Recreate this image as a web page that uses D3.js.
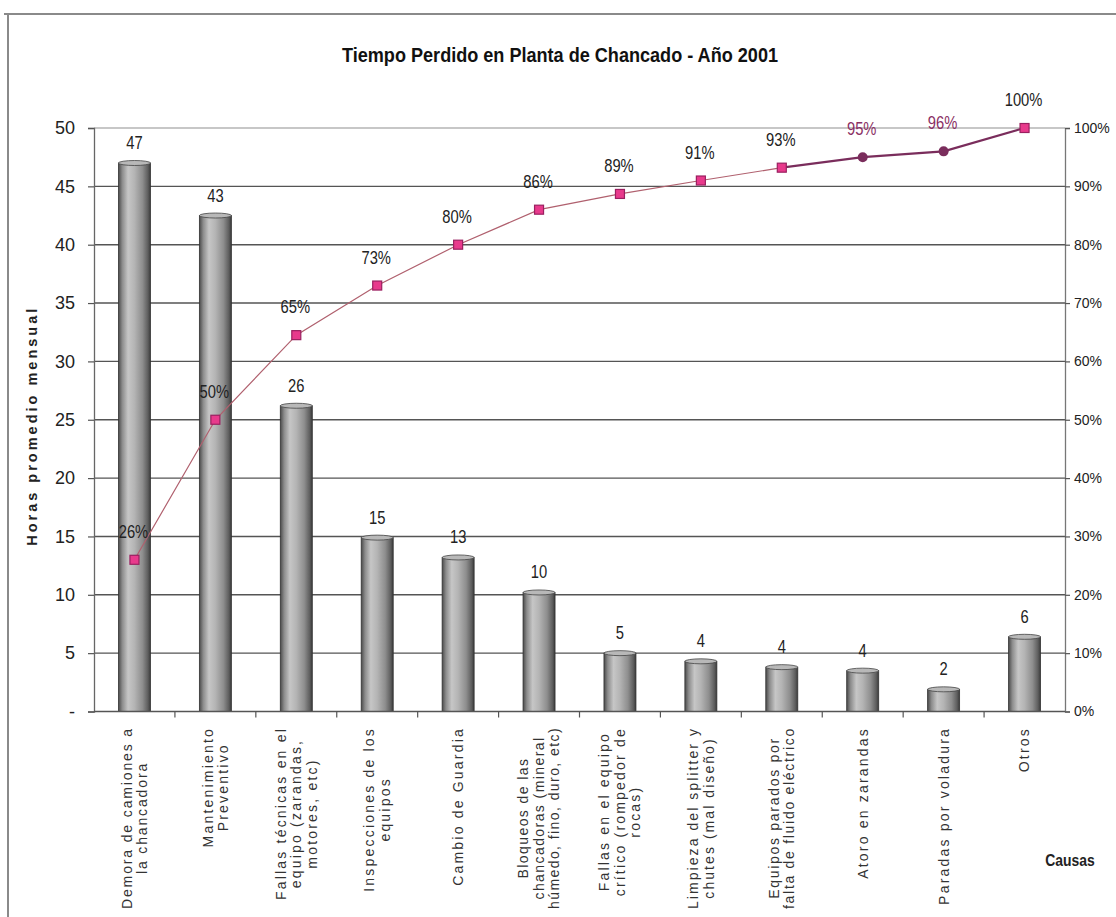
<!DOCTYPE html>
<html>
<head>
<meta charset="utf-8">
<script src="https://cdn.jsdelivr.net/npm/d3@7/dist/d3.min.js"></script>
<style>
  html, body { margin: 0; padding: 0; background: #fff; }
  svg { display: block; }
</style>
</head>
<body>
<script>
// ---------- DATA ----------
const categories = [
  "Demora de camiones a la chancadora",
  "Mantenimiento Preventivo",
  "Fallas técnicas en el equipo (zarandas, motores, etc)",
  "Inspecciones de los equipos",
  "Cambio de Guardia",
  "Bloqueos de las chancadoras (mineral húmedo, fino, duro, etc)",
  "Fallas en el equipo crítico (rompedor de rocas)",
  "Limpieza del splitter y chutes (mal diseño)",
  "Equipos parados por falta de fluido eléctrico",
  "Atoro en zarandas",
  "Paradas por voladura",
  "Otros"
];
const categoryLines = [
  ["Demora de camiones a", "la chancadora"],
  ["Mantenimiento", "Preventivo"],
  ["Fallas técnicas en el", "equipo (zarandas,", "motores, etc)"],
  ["Inspecciones de los", "equipos"],
  ["Cambio de Guardia"],
  ["Bloqueos de las", "chancadoras (mineral", "húmedo, fino, duro, etc)"],
  ["Fallas en el equipo", "crítico (rompedor de", "rocas)"],
  ["Limpieza del splitter y", "chutes (mal diseño)"],
  ["Equipos parados por", "falta de fluido eléctrico"],
  ["Atoro en zarandas"],
  ["Paradas por voladura"],
  ["Otros"]
];
const hours = [47, 42.5, 26.2, 14.9, 13.2, 10.2, 5.0, 4.3, 3.8, 3.5, 1.9, 6.4];
const cumulativePct = [26, 50, 64.5, 73, 80, 86, 88.7, 91, 93.2, 95, 96, 100];
const leftTicks = [0, 5, 10, 15, 20, 25, 30, 35, 40, 45, 50];
const rightTicks = [0, 10, 20, 30, 40, 50, 60, 70, 80, 90, 100];
const titleText = "Tiempo Perdido en Planta de Chancado - Año 2001";
const yTitle = "Horas promedio mensual";
const xTitle = "Causas";

// ---------- LAYOUT ----------
const W = 1116, H = 917;
const plot = { left: 94, right: 1065, top: 128, bottom: 711.5 };
const SANS = "'Liberation Sans', Arial, sans-serif";
const NARROW_SCALE = 0.82;

const svg = d3.select("body").append("svg").attr("width", W).attr("height", H);

// gradient for cylinder bars
const defs = svg.append("defs");
const grad = defs.append("linearGradient").attr("id", "cyl").attr("x1", "0%").attr("x2", "100%");
[[0, "#4a4a4a"], [0.12, "#8c8c8c"], [0.3, "#c6c6c6"], [0.5, "#b4b4b4"], [0.75, "#8e8e8e"], [0.92, "#5e5e5e"], [1, "#3a3a3a"]]
  .forEach(([o, c]) => grad.append("stop").attr("offset", o).attr("stop-color", c));

// frame
svg.append("line").attr("x1", 4).attr("x2", W).attr("y1", 14).attr("y2", 14)
  .attr("stroke", "#8a8a8a").attr("stroke-width", 2);
svg.append("line").attr("x1", 8).attr("x2", 8).attr("y1", 14).attr("y2", H)
  .attr("stroke", "#8a8a8a").attr("stroke-width", 2);

// scales
const x = d3.scaleBand().domain(categories).range([plot.left, plot.right]).paddingInner(0).paddingOuter(0);
const yL = d3.scaleLinear().domain([0, 50]).range([plot.bottom, plot.top]);
const yR = d3.scaleLinear().domain([0, 100]).range([plot.bottom, plot.top]);

// title
svg.append("text").attr("x", 560).attr("y", 62).attr("text-anchor", "middle")
  .attr("font-family", SANS).attr("font-weight", "bold").attr("font-size", 21)
  .attr("fill", "#111").attr("textLength", 436).attr("lengthAdjust", "spacingAndGlyphs")
  .text(titleText);

// gridlines
svg.append("g").selectAll("line").data(leftTicks.filter(d => d > 0)).join("line")
  .attr("x1", plot.left).attr("x2", plot.right)
  .attr("y1", d => yL(d)).attr("y2", d => yL(d))
  .attr("stroke", d => d === 50 ? "#b5b5b5" : "#555")
  .attr("stroke-width", 1.4);

// left axis
const axL = svg.append("g").attr("transform", `translate(${plot.left},0)`)
  .call(d3.axisLeft(yL).tickValues(leftTicks).tickSize(6).tickPadding(13)
    .tickFormat(d => d === 0 ? "-" : d));
axL.select(".domain").attr("stroke", "#666").attr("stroke-width", 1.3);
axL.selectAll(".tick line").attr("stroke", "#555").attr("stroke-width", 1.2);
axL.selectAll(".tick text").attr("font-family", SANS).attr("font-size", 18).attr("fill", "#222");

// right axis
const axR = svg.append("g").attr("transform", `translate(${plot.right},0)`)
  .call(d3.axisRight(yR).tickValues(rightTicks).tickSize(5).tickPadding(4)
    .tickFormat(d => d + "%"));
axR.select(".domain").attr("stroke", "#777").attr("stroke-width", 1.3);
axR.selectAll(".tick line").attr("stroke", "#555").attr("stroke-width", 1.2);
axR.selectAll(".tick text").attr("font-family", SANS).attr("font-size", 14).attr("fill", "#222");

// bars
const barW = 32;
const bars = svg.append("g");
bars.selectAll("rect").data(hours).join("rect")
  .attr("x", (d, i) => x(categories[i]) + x.bandwidth() / 2 - barW / 2)
  .attr("y", d => yL(d))
  .attr("width", barW)
  .attr("height", d => plot.bottom - yL(d))
  .attr("fill", "url(#cyl)")
  .attr("stroke", "#333").attr("stroke-width", 0.8);
bars.selectAll("ellipse").data(hours).join("ellipse")
  .attr("cx", (d, i) => x(categories[i]) + x.bandwidth() / 2)
  .attr("cy", d => yL(d))
  .attr("rx", barW / 2).attr("ry", 2.5)
  .attr("fill", "#b8b8b8").attr("stroke", "#444").attr("stroke-width", 0.8);

// x axis
svg.append("line").attr("x1", plot.left).attr("x2", plot.right)
  .attr("y1", plot.bottom).attr("y2", plot.bottom)
  .attr("stroke", "#555").attr("stroke-width", 1.3);
svg.append("g").selectAll("line").data(categories.slice(1)).join("line")
  .attr("x1", d => x(d)).attr("x2", d => x(d))
  .attr("y1", plot.bottom).attr("y2", plot.bottom + 6)
  .attr("stroke", "#555").attr("stroke-width", 1.2);

// bar value labels (condensed)
svg.append("g").selectAll("text").data(hours).join("text")
  .attr("transform", (d, i) => `translate(${x(categories[i]) + x.bandwidth() / 2},${yL(d) - 14}) scale(${NARROW_SCALE},1)`)
  .attr("text-anchor", "middle")
  .attr("font-family", SANS).attr("font-size", 18).attr("fill", "#222")
  .text(d => Math.round(d));

// x category labels (rotated, multi-line, fitted to available space)
const xl = svg.append("g");
const labelTop = 727, labelRoom = 182, maxLs = 2.2;
categoryLines.forEach((lines, i) => {
  const cx = x(categories[i]) + x.bandwidth() / 2;
  const g = xl.append("g").attr("transform", `translate(${cx},${labelTop}) rotate(-90)`);
  const lh = 15.5;
  const texts = lines.map((ln, j) => g.append("text")
    .attr("y", (j - (lines.length - 1) / 2) * lh)
    .attr("dy", "0.35em")
    .attr("text-anchor", "middle")
    .attr("font-family", SANS).attr("font-size", 14)
    .attr("fill", "#333")
    .text(ln));
  // choose letter spacing so the longest line fits
  let ls = maxLs;
  texts.forEach((t, j) => {
    const base = t.node().getComputedTextLength();
    const n = lines[j].length;
    ls = Math.min(ls, (labelRoom - base) / n);
  });
  texts.forEach(t => t.attr("letter-spacing", ls + "px"));
  const maxLen = d3.max(texts, t => t.node().getBBox().width);
  texts.forEach(t => t.attr("x", -maxLen / 2));
});

// cumulative line
const px = i => x(categories[i]) + x.bandwidth() / 2;
const pts = cumulativePct.map((v, i) => [px(i), yR(v)]);
const line = d3.line();
svg.append("path").attr("d", line(pts.slice(0, 9)))
  .attr("fill", "none").attr("stroke", "#b0606e").attr("stroke-width", 1.2);
svg.append("path").attr("d", line(pts.slice(8)))
  .attr("fill", "none").attr("stroke", "#7a2d5c").attr("stroke-width", 2.2);

// markers
const mk = svg.append("g");
cumulativePct.forEach((v, i) => {
  if (i === 9 || i === 10) {
    mk.append("circle").attr("cx", px(i)).attr("cy", yR(v)).attr("r", 5)
      .attr("fill", "#7a2d5c");
  } else {
    mk.append("rect").attr("x", px(i) - 4.5).attr("y", yR(v) - 4.5)
      .attr("width", 9).attr("height", 9)
      .attr("fill", "#e83a8c").attr("stroke", "#9a2060").attr("stroke-width", 1.2);
  }
});

// cumulative labels (condensed)
svg.append("g").selectAll("text").data(cumulativePct).join("text")
  .attr("transform", (d, i) => `translate(${px(i) - 1},${yR(d) - 22}) scale(${NARROW_SCALE},1)`)
  .attr("text-anchor", "middle")
  .attr("font-family", SANS).attr("font-size", 18)
  .attr("fill", (d, i) => (i === 9 || i === 10) ? "#8a2f64" : "#222")
  .text(d => Math.round(d) + "%");

// axis titles
svg.append("text")
  .attr("transform", `translate(37,${(plot.top + plot.bottom) / 2 + 6}) rotate(-90)`)
  .attr("text-anchor", "middle")
  .attr("font-family", SANS).attr("font-weight", "bold").attr("font-size", 14.5)
  .attr("letter-spacing", "3px")
  .attr("fill", "#222")
  .text(yTitle);
svg.append("text")
  .attr("transform", `translate(1070,866) scale(${NARROW_SCALE},1)`)
  .attr("text-anchor", "middle")
  .attr("font-family", SANS).attr("font-weight", "bold").attr("font-size", 17)
  .attr("fill", "#222").text(xTitle);
</script>
</body>
</html>
